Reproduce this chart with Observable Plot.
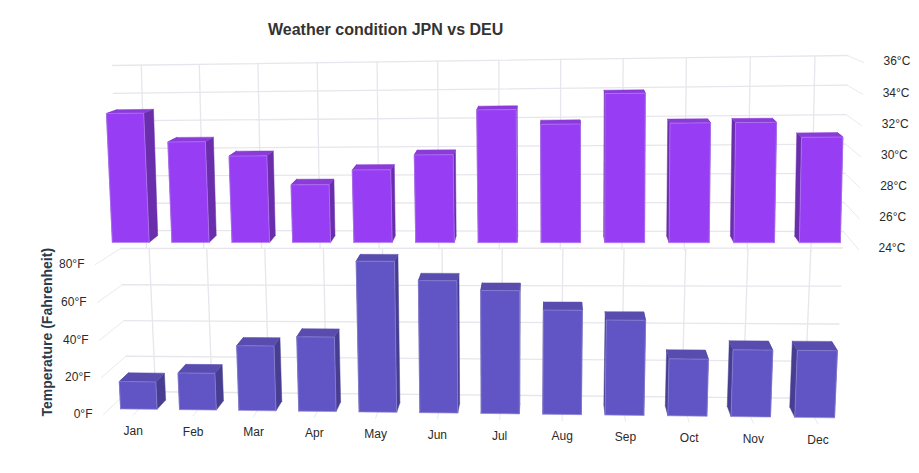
<!DOCTYPE html>
<html><head><meta charset="utf-8">
<script src="https://cdn.jsdelivr.net/npm/d3@7"></script>
<script src="https://cdn.jsdelivr.net/npm/@observablehq/plot@0.6"></script>
<style>
html,body{margin:0;padding:0;background:#fff}
#title{height:40px;box-sizing:border-box;padding:20px 0 0 268px;font:bold 16px "Liberation Sans",Arial,sans-serif;line-height:20px;color:#333}
svg{display:block}
</style></head><body>
<div id="title">Weather condition JPN vs DEU</div>
<div id="chart"></div>
<script>
const months = ["Jan","Feb","Mar","Apr","May","Jun","Jul","Aug","Sep","Oct","Nov","Dec"];
const tempC = [33,31,30,28,29,30,33,32,34,32,32,31];
const tempF = [15,20,35,40,80,70,65,55,50,30,35,35];
const ticksC = [24,26,28,30,32,34,36];
const ticksF = [0,20,40,60,80];

// Perspective view: [bottom-left, bottom-right, top-right, top-left] of the back wall and the front edge
function homography(q){
  const [[x0,y0],[x1,y1],[x2,y2],[x3,y3]] = q;
  const dx1=x1-x2, dx2=x3-x2, sx=x0-x1+x2-x3, dy1=y1-y2, dy2=y3-y2, sy=y0-y1+y2-y3;
  const den=dx1*dy2-dx2*dy1, g=(sx*dy2-dx2*sy)/den, h=(dx1*sy-sx*dy1)/den;
  const a=x1-x0+g*x1, b=x3-x0+h*x3, d=y1-y0+g*y1, e=y3-y0+h*y3;
  return (u,v)=>{const w=g*u+h*v+1; return [(a*u+b*v+x0)/w,(d*u+e*v+y0)/w];};
}
function view(wall, front, lo, hi){
  const W=homography(wall), F=homography(front);
  return (i,val,depth)=>{
    const u=i/months.length, v=(val-lo)/(hi-lo), p=W(u,v), q=F(u,v);
    return [p[0]+(q[0]-p[0])*depth, p[1]+(q[1]-p[1])*depth];
  };
}
const viewC = view([[117,230],[843,231],[847,55],[112,65]], [[91,249],[858,249],[863,62],[81,72]], 24, 36);
const viewF = view([[127,391],[835,398],[842,247.5],[120,248]], [[103,414],[850,424],[857,267],[95,264]], 0, 80);

function faces(values, proj, base, d0, d1){
  const left=[],right=[],top=[],front=[];
  values.forEach((val,i)=>{
    const a=i+0.19,b=i+0.81;
    const quad=(list,pts)=>{const id=list.length; [...pts,pts[0]].forEach(p=>{const [x,y]=proj(...p); list.push({id,x,y});});};
    quad(left,[[a,base,d0],[a,base,d1],[a,val,d1],[a,val,d0]]);
    quad(right,[[b,base,d0],[b,base,d1],[b,val,d1],[b,val,d0]]);
    quad(top,[[a,val,d0],[b,val,d0],[b,val,d1],[a,val,d1]]);
    quad(front,[[a,base,d1],[b,base,d1],[b,val,d1],[a,val,d1]]);
  });
  return {left,right,top,front};
}
const seg=(proj,pairs)=>pairs.flatMap((pair,id)=>pair.map(p=>{const [x,y]=proj(...p);return {id,x,y};}));
const gridMark=(data,stroke="#e6e6ec",w=1.3)=>Plot.line(data,{x:"x",y:"y",z:"id",stroke,strokeWidth:w,curve:"linear"});
const faceMarks=(f,c)=>[
  ...["left","right"].map(k=>Plot.line(f[k],{x:"x",y:"y",z:"id",fill:c.side,stroke:c.side,strokeWidth:.5})),
  Plot.line(f.top,{x:"x",y:"y",z:"id",fill:c.top,stroke:c.top,strokeWidth:.5}),
  Plot.line(f.front,{x:"x",y:"y",z:"id",fill:c.front,stroke:c.edge,strokeWidth:.9,strokeOpacity:.75})
];
const mid=months.map((m,i)=>i+0.5), n=months.length;
const ptLabel=(proj,items,at,text,opts)=>Plot.text(items,{x:d=>proj(...at(d))[0],y:d=>proj(...at(d))[1],text,fontSize:12,fill:"#2a2a2a",...opts});

const barsC=faces(tempC,viewC,24,0.26,0.63), barsF=faces(tempF,viewF,0,0.35,0.75);
const fontFamily='"Liberation Sans",Arial,sans-serif';

document.getElementById("chart").append(Plot.plot({
  width:919,height:433,margin:0,
  x:{domain:[0,919],range:[0,919],axis:null},
  y:{domain:[40,473],range:[0,433],axis:null},
  style:{fontFamily,background:"#fff"},
  marks:[
    gridMark(seg(viewC,ticksC.map(t=>[[0,t,0],[n,t,0]]))),
    gridMark(seg(viewC,mid.map(u=>[[u,36,0],[u,22.7,0]]))),
    gridMark(seg(viewC,ticksC.map(t=>[[n,t,0],[n,t,1]])),"#eaeaef",1),
    gridMark(seg(viewF,ticksF.map(t=>[[0,t,0],[n,t,0]]))),
    gridMark(seg(viewF,mid.map(u=>[[u,80,0],[u,0,0]]))),
    gridMark(seg(viewF,mid.map(u=>[[u,0,0],[u,0,1]])),"#eaeaef",1),
    gridMark(seg(viewF,ticksF.map(t=>[[0,t,0],[0,t,1]])),"#eaeaef",1),
    ...faceMarks(barsC,{side:"#6a2dab",top:"#8a3bd8",front:"#973df3",edge:"#b57df5"}),
    ...faceMarks(barsF,{side:"#473e92",top:"#584dae",front:"#6155c5",edge:"#8d86d6"}),
    ptLabel(viewC,ticksC,t=>[n,t,1],t=>`${t}°C`,{textAnchor:"start",dx:20,dy:-1.5}),
    ptLabel(viewF,ticksF,t=>[0,t,1],t=>`${t}°F`,{textAnchor:"end",dx:-11,dy:0}),
    ptLabel(viewF,months,m=>[months.indexOf(m)+0.5,0,1],m=>m,{dy:16}),
    Plot.text(["Temperature (Fahrenheit)"],{
      x:()=>viewF(0,40,1)[0],y:()=>viewF(0,40,1)[1],text:d=>d,rotate:-90,dx:-52,dy:-8,
      fontSize:14,fontWeight:"bold",fill:"#2b3a4a"})
  ]
}));
</script>
</body></html>
